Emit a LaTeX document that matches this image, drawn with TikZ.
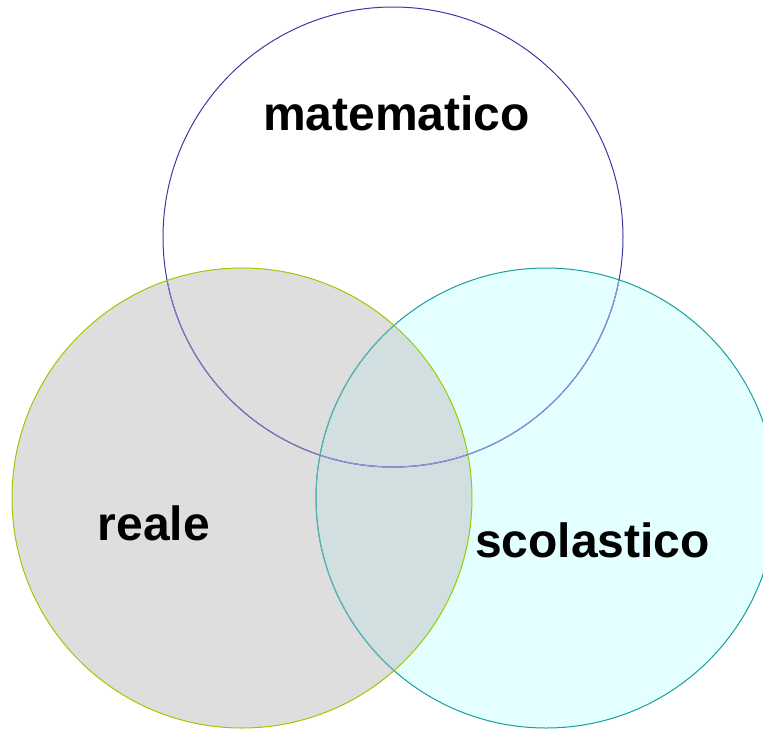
\documentclass[tikz,border=0pt]{standalone}
\usepackage{fontspec}
\setmainfont{Liberation Sans}
\definecolor{grayfill}{HTML}{DEDEDE}
\definecolor{cyanfill}{HTML}{E3FFFF}
\definecolor{overfill}{HTML}{D1DFE0}
\definecolor{navyline}{HTML}{3A3AA6}
\definecolor{navyongray}{HTML}{7A7AB8}
\definecolor{navyoncyan}{HTML}{8A96D6}
\definecolor{greenline}{HTML}{99CC00}
\definecolor{tealline}{HTML}{1A9E9E}
\definecolor{tealongray}{HTML}{5EB2B2}
\tikzset{
  lbl/.style={font=\bfseries\fontsize{48}{50}\selectfont, anchor=base, inner sep=0pt},
  ring/.style={line width=1pt}
}
\begin{document}
\begin{tikzpicture}[x=1pt,y=-1pt]
\useasboundingbox (0,0) rectangle (763,729);
\coordinate (cT) at (393,237);
\coordinate (cL) at (242,498);
\coordinate (cR) at (546,498);
% fills
\fill[grayfill] (cL) circle (230);
\fill[cyanfill] (cR) circle (230);
\begin{scope}
  \clip (cL) circle (230);
  \fill[overfill] (cR) circle (230);
\end{scope}
% top circle outline
\begin{scope}
  \clip (0,0) rectangle (763,729);
  \draw[ring, navyline] (cT) circle (230);
\end{scope}
\begin{scope}
  \clip (cL) circle (230);
  \draw[ring, navyongray] (cT) circle (230);
\end{scope}
\begin{scope}
  \clip (cR) circle (230);
  \draw[ring, navyoncyan] (cT) circle (230);
\end{scope}
% right circle outline
\draw[ring, tealline] (cR) circle (230);
\begin{scope}
  \clip (cL) circle (230);
  \draw[ring, tealongray] (cR) circle (230);
\end{scope}
% left circle outline
\draw[ring, greenline] (cL) circle (230);
% labels
\node[lbl] (mat) at (396.5,130) {matematico};
\node[lbl] (rea) at (154,540) {reale};
\node[lbl] (sco) at (592.5,557) {scolastico};
\end{tikzpicture}
\end{document}
